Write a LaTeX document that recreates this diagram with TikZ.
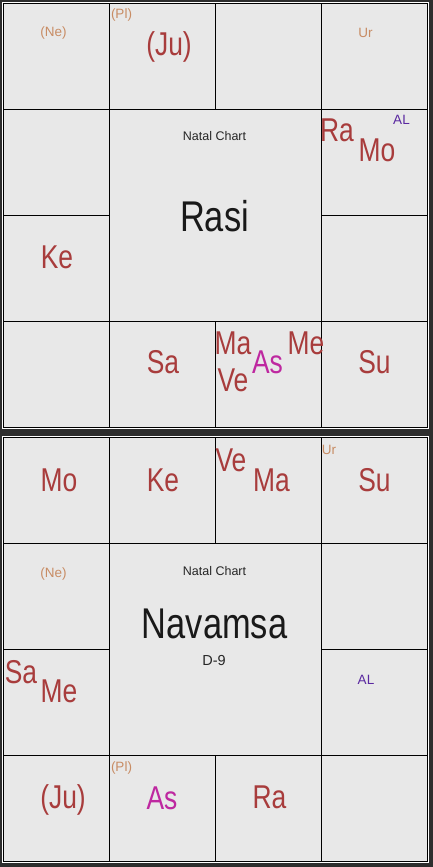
\documentclass[tikz,border=0pt]{standalone}
\usepackage{fontspec}
\setmainfont{Liberation Sans}
\newfontfamily\narrowsans[FakeStretch=0.8]{Liberation Sans}
\definecolor{framegray}{HTML}{2E2E2E}
\definecolor{cellgray}{HTML}{E8E8E8}
\definecolor{grahared}{HTML}{A83C3C}
\definecolor{upatan}{HTML}{C88C64}
\definecolor{lagnamag}{HTML}{BE28A0}
\definecolor{arudhapurple}{HTML}{5A28A0}
\begin{document}
\begin{tikzpicture}
[x=1pt,y=-1pt,%
  every node/.style={inner sep=0pt,anchor=center},%
  graha/.style={text=grahared,font=\narrowsans\fontsize{33}{33}\selectfont},%
  lagna/.style={text=lagnamag,font=\narrowsans\fontsize{33}{33}\selectfont},%
  upa/.style={text=upatan,font=\fontsize{13.5}{13.5}\selectfont},%
  arudha/.style={text=arudhapurple,font=\fontsize{13.5}{13.5}\selectfont},%
  caption/.style={text=black!85,font=\fontsize{12.5}{12.5}\selectfont},%
  varga/.style={text=black!90,font=\narrowsans\fontsize{43}{43}\selectfont}]
\useasboundingbox (0,0) rectangle (433,867);
\fill[framegray] (0,0) rectangle (433,867);
\foreach \o in {0,434} {
  \fill[white] (2,\o+2) rectangle (429,\o+429);
  \fill[cellgray] (3,\o+3) rectangle (428,\o+428);
  \draw[line width=1pt] (3.5,\o+3.5) rectangle (427.5,\o+427.5)
    (109.5,\o+3.5) -- (109.5,\o+427.5)
    (321.5,\o+3.5) -- (321.5,\o+427.5)
    (3.5,\o+109.5) -- (427.5,\o+109.5)
    (3.5,\o+321.5) -- (427.5,\o+321.5)
    (215.5,\o+3.5) -- (215.5,\o+109.5)
    (215.5,\o+321.5) -- (215.5,\o+427.5)
    (3.5,\o+215.5) -- (109.5,\o+215.5)
    (321.5,\o+215.5) -- (427.5,\o+215.5);
}
\node[upa] (rasi-ne) at (53.5,33.5) {(Ne)};
\node[upa] (rasi-pl) at (121.5,15) {(Pl)};
\node[graha] (rasi-ju) at (169,46.5) {(Ju)};
\node[upa] (rasi-ur) at (365.5,33) {Ur};
\node[graha] (rasi-ra) at (337,130) {Ra};
\node[graha] (rasi-mo) at (377,150) {Mo};
\node[arudha] (rasi-al) at (401.5,119.5) {AL};
\node[caption] (rasi-cap) at (214.5,136) {Natal Chart};
\node[varga] (rasi-name) at (214.5,216) {Rasi};
\node[graha] (rasi-ke) at (57,257) {Ke};
\node[graha] (rasi-sa) at (163,362) {Sa};
\node[graha] (rasi-ma) at (233,343.5) {Ma};
\node[lagna] (rasi-as) at (267.5,362) {As};
\node[graha] (rasi-me) at (306,343.5) {Me};
\node[graha] (rasi-ve) at (233,380) {Ve};
\node[graha] (rasi-su) at (374.5,362.5) {Su};
\node[graha] (nav-mo) at (59,480) {Mo};
\node[graha] (nav-ke) at (163,480) {Ke};
\node[graha] (nav-ve) at (231,460.5) {Ve};
\node[graha] (nav-ma) at (271.5,480.5) {Ma};
\node[upa] (nav-ur) at (329,449.5) {Ur};
\node[graha] (nav-su) at (374.5,480.5) {Su};
\node[upa] (nav-ne) at (53.5,574) {(Ne)};
\node[caption] (nav-cap) at (214.5,571) {Natal Chart};
\node[varga] (nav-name) at (214.5,624) {Navamsa};
\node[caption,font=\fontsize{14.5}{14.5}\selectfont] (nav-div) at (214,660.5) {D-9};
\node[graha] (nav-sa) at (21,672) {Sa};
\node[graha] (nav-me) at (59,691.5) {Me};
\node[arudha] (nav-al) at (366,680) {AL};
\node[graha] (nav-ju) at (63,799.5) {(Ju)};
\node[upa] (nav-pl) at (121.5,768) {(Pl)};
\node[lagna] (nav-as) at (162,798.5) {As};
\node[graha] (nav-ra) at (269.5,797.5) {Ra};
\end{tikzpicture}
\end{document}
